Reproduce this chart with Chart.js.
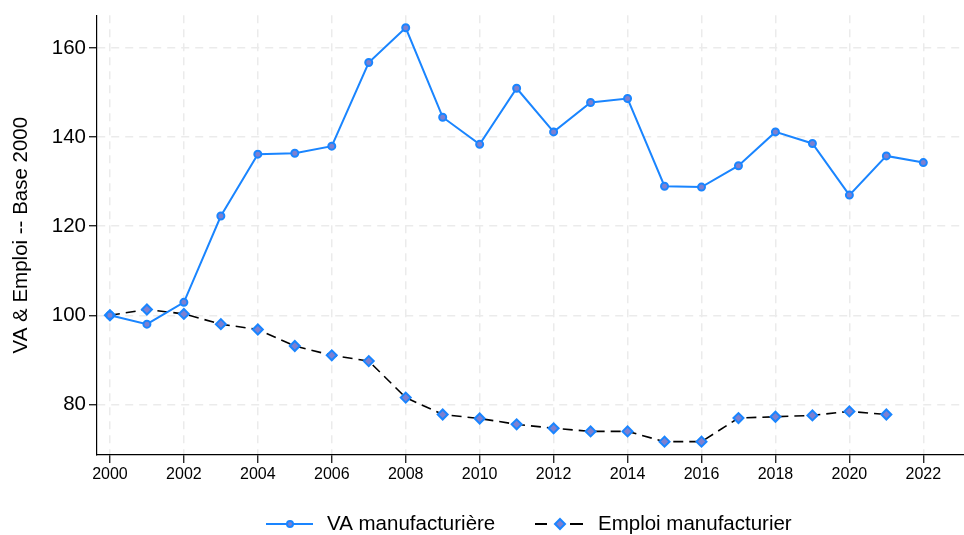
<!DOCTYPE html>
<html lang="fr">
<head>
  <meta charset="UTF-8" />
  <title>VA et emploi manufacturier</title>
  <script src="https://cdn.jsdelivr.net/npm/chart.js"></script>
  <style>
    body { margin: 0; background: #ffffff; }
    #wrap { width: 964px; height: 535px; }
  </style>
</head>
<body>
  <div id="wrap"><canvas id="chart"></canvas></div>

  <script>
    const years = [2000, 2001, 2002, 2003, 2004, 2005, 2006, 2007, 2008, 2009, 2010, 2011,
                   2012, 2013, 2014, 2015, 2016, 2017, 2018, 2019, 2020, 2021, 2022];
    const vaManuf = [100, 98, 102.9, 122.3, 136.2, 136.4, 138, 156.8, 164.6, 144.5, 138.4, 151,
                     141.2, 147.8, 148.7, 129, 128.8, 133.6, 141.2, 138.6, 127, 135.8, 134.3];
    const emploiManuf = [100, 101.3, 100.3, 98, 96.8, 93.1, 91, 89.7, 81.5, 77.7, 76.8, 75.5,
                         74.6, 73.9, 73.9, 71.6, 71.6, 76.9, 77.2, 77.5, 78.4, 77.7];
    const xTicks = [2000, 2002, 2004, 2006, 2008, 2010, 2012, 2014, 2016, 2018, 2020, 2022];
    const yTicks = [80, 100, 120, 140, 160];

    const blue = '#1a85ff';
    const markerFill = '#7d80d0';
    const font = 'Arial, "Liberation Sans", sans-serif';

    // legend drawn by hand: line sample + marker + label
    const legendPlugin = {
      id: 'stataLegend',
      afterDraw(chart) {
        const ctx = chart.ctx;
        const y = 524;
        ctx.save();
        ctx.lineWidth = 2;
        ctx.strokeStyle = blue;
        ctx.beginPath();
        ctx.moveTo(266, y); ctx.lineTo(313, y);
        ctx.stroke();
        ctx.fillStyle = markerFill;
        ctx.beginPath();
        ctx.arc(290, y, 3, 0, Math.PI * 2);
        ctx.fill(); ctx.stroke();

        ctx.strokeStyle = '#000';
        ctx.beginPath();
        ctx.moveTo(535, y); ctx.lineTo(547, y);
        ctx.moveTo(570, y); ctx.lineTo(583, y);
        ctx.stroke();
        ctx.strokeStyle = blue;
        ctx.beginPath();
        ctx.moveTo(560, y - 5); ctx.lineTo(565, y); ctx.lineTo(560, y + 5); ctx.lineTo(555, y);
        ctx.closePath();
        ctx.fill(); ctx.stroke();

        ctx.fillStyle = '#000';
        ctx.font = '20.5px ' + font;
        ctx.textBaseline = 'middle';
        ctx.fillText('VA manufacturière', 327, y);
        ctx.fillText('Emploi manufacturier', 598, y);
        ctx.restore();
      }
    };

    new Chart(document.getElementById('chart'), {
      type: 'line',
      data: {
        datasets: [
          {
            label: 'VA manufacturière',
            data: vaManuf.map((v, i) => ({ x: years[i], y: v })),
            borderColor: blue,
            borderWidth: 2,
            pointStyle: 'circle',
            pointRadius: 3.5,
            pointBorderWidth: 2,
            pointBackgroundColor: markerFill,
            pointBorderColor: blue,
            tension: 0
          },
          {
            label: 'Emploi manufacturier',
            data: emploiManuf.map((v, i) => ({ x: years[i], y: v })),
            borderColor: '#000',
            borderWidth: 1.6,
            borderDash: [10, 6],
            pointStyle: 'rectRot',
            pointRadius: 5,
            pointBorderWidth: 2,
            pointBackgroundColor: markerFill,
            pointBorderColor: blue,
            tension: 0
          }
        ]
      },
      options: {
        responsive: true,
        maintainAspectRatio: false,
        animation: false,
        layout: { autoPadding: false, padding: { top: 13, right: 0, left: 0, bottom: 0 } },
        plugins: {
          legend: { display: false },
          tooltip: { enabled: false }
        },
        scales: {
          x: {
            type: 'linear',
            min: 1999.65,
            max: 2023.1,
            afterBuildTicks: s => { s.ticks = xTicks.map(v => ({ value: v })); },
            afterFit: s => { s.height = 80; },
            ticks: {
              color: '#000',
              font: { size: 16, family: font },
              padding: 2,
              maxRotation: 0,
              callback: v => String(v)
            },
            grid: {
              color: '#ebebeb',
              lineWidth: 1.5,
              tickLength: 8,
              tickColor: '#000',
              tickWidth: 1.2,
              tickBorderDash: []
            },
            border: { color: '#000', width: 1.2, dash: [8, 6] }
          },
          y: {
            min: 68.6,
            max: 167.4,
            afterBuildTicks: s => { s.ticks = yTicks.map(v => ({ value: v })); },
            afterFit: s => { s.width = 97; },
            title: {
              display: true,
              text: 'VA & Emploi -- Base 2000',
              color: '#000',
              font: { size: 20.5, family: font },
              padding: { top: 9, bottom: 0 }
            },
            ticks: {
              color: '#000',
              font: { size: 20.5, family: font },
              padding: 3
            },
            grid: {
              color: '#ebebeb',
              lineWidth: 1.5,
              tickLength: 8,
              tickColor: '#000',
              tickWidth: 1.2,
              tickBorderDash: []
            },
            border: { color: '#000', width: 1.2, dash: [8, 6] }
          }
        }
      },
      plugins: [legendPlugin]
    });
  </script>
</body>
</html>
